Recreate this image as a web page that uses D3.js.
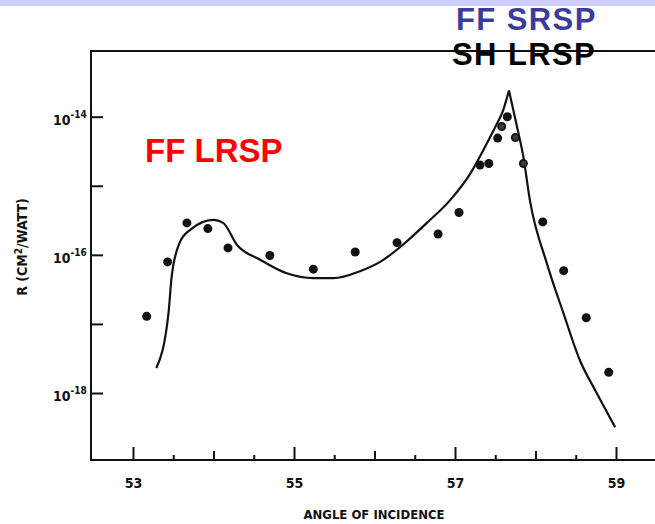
<!DOCTYPE html>
<html>
<head>
<meta charset="utf-8">
<script src="https://cdn.jsdelivr.net/npm/d3@7"></script>
<style>
    body { margin: 0; background: #ffffff; }
    .lbl { font-family: "Liberation Sans Narrow", "DejaVu Sans Condensed", "Arial Narrow", sans-serif; font-weight: bold; fill: #111111; }
    .big { font-family: "Liberation Sans", Arial, Helvetica, sans-serif; font-weight: bold; font-size: 33px; }
    .top { font-size: 31px; letter-spacing: 1.4px; }
</style>
</head>
<body>
<div id="div_placeholder"></div>
<script>
// meetpunten (angle of incidence, R in cm2/watt)
var dotAngles = [53.17, 53.43, 53.67, 53.93, 54.18, 54.70, 55.24, 55.76, 56.28, 56.79, 57.05,
    57.31, 57.42, 57.53, 57.58, 57.65, 57.75, 57.85, 58.09, 58.35, 58.63, 58.91];
var dotR = [1.29e-17, 7.9e-17, 2.9e-16, 2.4e-16, 1.26e-16, 9.8e-17, 6.2e-17, 1.1e-16, 1.5e-16, 2.0e-16, 4.1e-16,
    2.0e-15, 2.1e-15, 4.9e-15, 7.2e-15, 1.0e-14, 5.0e-15, 2.1e-15, 3.0e-16, 5.9e-17, 1.23e-17, 2.0e-18];
// open rondjes
var openDots = [14, 16, 17];

// theorie curve
var curveAngles = [53.29, 53.44, 53.48, 53.58, 53.71, 54.00, 54.12, 54.29, 54.58, 54.91, 55.24, 55.49,
    55.82, 56.07, 56.32, 56.65, 56.94, 57.19, 57.40, 57.50, 57.60, 57.67,
    57.77, 57.85, 57.93, 58.14, 58.35, 58.55, 58.76, 58.99];
var curveR = [2.3e-18, 1.4e-17, 4.8e-17, 1.5e-16, 2.3e-16, 3.2e-16, 2.9e-16, 1.4e-16, 8.5e-17, 5.4e-17, 4.6e-17, 4.6e-17,
    5.8e-17, 7.9e-17, 1.3e-16, 2.9e-16, 6.2e-16, 1.5e-15, 4.2e-15, 7.1e-15, 1.26e-14, 2.4e-14,
    7.2e-15, 2.6e-15, 6.2e-16, 7.6e-17, 1.4e-17, 3.0e-18, 1.0e-18, 3.2e-19];
var peakIndex = 21;

var xMajor = [53, 55, 57, 59];
var xMedium = [54, 56, 58];
var xMinor = [53.5, 54.5, 55.5, 56.5, 57.5, 58.5];
var yTicks = [1e-18, 1e-17, 1e-16, 1e-15, 1e-14];
var yLabelExp = ["-18", "", "-16", "", "-14"];

//variabelen voor svg
var width = 655;
var height = 524;
var frameLeft = 91, frameTop = 51, frameBottom = 460, frameRight = 660;

var x = d3.scaleLinear().domain([53, 59]).range([133, 616]);
var y = d3.scaleLog().domain([1e-18, 1e-14]).range([393, 116.7]);

var svg = d3.select("#div_placeholder")
    .append("svg")
    .attr("width", width)
    .attr("height", height);

// band bovenaan
svg.append("rect")
    .attr("x", 0).attr("y", 0)
    .attr("width", width).attr("height", 6)
    .attr("fill", "#ccccff");

// kader
svg.append("path")
    .attr("d", "M" + frameRight + "," + frameTop + "H" + frameLeft + "V" + frameBottom + "H" + frameRight)
    .attr("stroke", "#111111")
    .attr("stroke-width", 2)
    .attr("fill", "none");

// x as
function xTicks(values, size, labels) {
    var ax = d3.axisBottom(x).tickValues(values).tickSizeInner(-size).tickSizeOuter(0).tickPadding(18)
        .tickFormat(labels ? d3.format("d") : "");
    var g = svg.append("g")
        .attr("transform", "translate(0," + frameBottom + ")")
        .call(ax);
    g.select(".domain").remove();
    g.selectAll("line").attr("stroke", "#111111").attr("stroke-width", 2);
    g.selectAll("text").attr("class", "lbl").style("font-size", "14px");
    return g;
}
xTicks(xMajor, 13, true);
xTicks(xMedium, 9, false);
xTicks(xMinor, 5, false);

// y as
var yAxis = svg.append("g")
    .attr("transform", "translate(" + frameLeft + ",0)")
    .call(d3.axisLeft(y).tickValues(yTicks).tickSizeInner(-12).tickSizeOuter(0).tickFormat(""));
yAxis.select(".domain").remove();
yAxis.selectAll("line").attr("stroke", "#111111").attr("stroke-width", 2);

yTicks.forEach(function (d, i) {
    if (yLabelExp[i] === "") return;
    var t = svg.append("text")
        .attr("class", "lbl")
        .attr("x", 53)
        .attr("y", y(d) + 8)
        .style("font-size", "14px");
    t.append("tspan").text("10");
    t.append("tspan").attr("dy", -7).style("font-size", "10px").text(yLabelExp[i]);
});

// as titels
svg.append("text")
    .attr("class", "lbl")
    .attr("x", 374)
    .attr("y", 519)
    .attr("text-anchor", "middle")
    .style("font-size", "13px")
    .text("ANGLE OF INCIDENCE");

var yTitle = svg.append("text")
    .attr("class", "lbl")
    .attr("transform", "translate(27,247) rotate(-90)")
    .attr("text-anchor", "middle")
    .style("font-size", "14px");
yTitle.append("tspan").text("R (CM");
yTitle.append("tspan").attr("dy", -5).style("font-size", "10px").text("2");
yTitle.append("tspan").attr("dy", 5).text("/WATT)");

// curve, in twee delen zodat de top scherp blijft
var line = d3.line()
    .x(function (d) { return x(d[0]); })
    .y(function (d) { return y(d[1]); })
    .curve(d3.curveMonotoneX);

var curveData = d3.zip(curveAngles, curveR);
[curveData.slice(0, peakIndex + 1), curveData.slice(peakIndex)].forEach(function (part) {
    svg.append("path")
        .datum(part)
        .attr("d", line)
        .attr("fill", "none")
        .attr("stroke", "#111111")
        .attr("stroke-width", 2.2)
        .attr("stroke-linejoin", "round");
});

// punten
svg.append("g").selectAll("circle")
    .data(d3.zip(dotAngles, dotR))
    .enter()
    .append("circle")
    .attr("cx", function (d) { return x(d[0]); })
    .attr("cy", function (d) { return y(d[1]); })
    .attr("r", function (d, i) { return openDots.indexOf(i) >= 0 ? 3.6 : 4.5; })
    .attr("fill", function (d, i) { return openDots.indexOf(i) >= 0 ? "#3a3a3a" : "#111111"; })
    .attr("stroke", "#111111")
    .attr("stroke-width", function (d, i) { return openDots.indexOf(i) >= 0 ? 1.8 : 0; });

// gekleurde labels
svg.append("text").attr("class", "big")
    .attr("x", 145).attr("y", 162)
    .attr("fill", "#ff0000")
    .text("FF LRSP");
svg.append("text").attr("class", "big top")
    .attr("x", 456).attr("y", 30)
    .attr("fill", "#3c3c9c")
    .text("FF SRSP");
svg.append("text").attr("class", "big top")
    .attr("x", 452).attr("y", 64.5)
    .attr("fill", "#000000")
    .text("SH LRSP");
</script>
</body>
</html>
